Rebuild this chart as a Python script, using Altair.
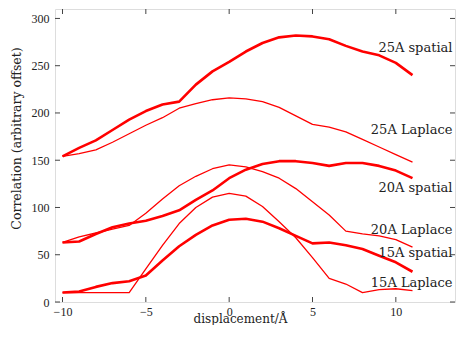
import altair as alt
import pandas as pd

xs = list(range(-10, 12))

s25 = [154, 163, 171, 182, 193, 202, 209, 212, 230, 244, 254, 265, 274, 280, 282, 281, 278, 271, 265, 261, 253, 240]
l25 = [154, 157, 161, 169, 178, 187, 195, 205, 210, 214, 216, 215, 212, 206, 197, 188, 185, 180, 172, 164, 156, 148]
s20 = [63, 64, 72, 79, 83, 86, 91, 97, 108, 118, 131, 140, 146, 149, 149, 147, 144, 147, 147, 144, 139, 131]
l20 = [63, 69, 73, 77, 81, 94, 109, 123, 133, 141, 145, 143, 138, 131, 120, 106, 92, 75, 72, 70, 66, 58]
s15 = [10, 11, 16, 20, 22, 28, 44, 59, 71, 81, 87, 88, 85, 78, 70, 62, 63, 60, 56, 49, 42, 32]
l15 = [10, 10, 10, 10, 10, 35, 60, 83, 100, 111, 115, 112, 101, 85, 68, 47, 25, 19, 10, 13, 14, 12]

series_names = ["25A spatial", "25A Laplace", "20A spatial", "20A Laplace", "15A spatial", "15A Laplace"]
series_kind = ["spatial", "Laplace", "spatial", "Laplace", "spatial", "Laplace"]
series_vals = [s25, l25, s20, l20, s15, l15]

label_x = 13.4
label_y = [265, 178, 116.5, 71.8, 47.8, 15.5]

x_ticks = [-10, -5, 0, 5, 10]
y_ticks = [0, 50, 100, 150, 200, 250, 300]

rows = []
for name, kind, vals in zip(series_names, series_kind, series_vals):
    for x, v in zip(xs, vals):
        rows.append({"x": x, "y": v, "series": name, "kind": kind})
df = pd.DataFrame(rows)

lab = pd.DataFrame({"x": [label_x] * 6, "y": label_y, "text": series_names})
xt = pd.DataFrame({"x": x_ticks})
yt = pd.DataFrame({"y": y_ticks})

W, H = 400, 293
SERIF = "DejaVu Serif"
TICKFONT = "Liberation Serif"

xscale = alt.Scale(domain=[-10.45, 13.55], nice=False, zero=False)
yscale = alt.Scale(domain=[0, 310], nice=False, zero=False)

xaxis = alt.Axis(values=x_ticks, ticks=False, domain=False, grid=False,
                 labelFont=TICKFONT, labelFontSize=12, labelColor="#222",
                 labelPadding=4, title="displacement/Å", titleFont=SERIF,
                 titleFontSize=12, titleFontWeight="normal", titleColor="#222",
                 titleX=185, titleY=20, titleBaseline="alphabetic")
yaxis = alt.Axis(values=y_ticks, ticks=False, domain=False, grid=False,
                 labelFont=TICKFONT, labelFontSize=12, labelColor="#222",
                 labelPadding=6, title="Correlation (arbitrary offset)",
                 titleFont=SERIF, titleFontSize=12.5, titleFontWeight="normal",
                 titleColor="#222", titleX=-35, titleY=129,
                 titleBaseline="alphabetic")

X = alt.X("x:Q", scale=xscale, axis=xaxis)
Y = alt.Y("y:Q", scale=yscale, axis=yaxis)

lines = alt.Chart(df).mark_line(color="#ff0000", strokeJoin="round").encode(
    x=X, y=Y,
    detail="series:N",
    order="x:Q",
    strokeWidth=alt.StrokeWidth("kind:N", scale=alt.Scale(domain=["spatial", "Laplace"], range=[2.6, 1.3]), legend=None),
)

labels = alt.Chart(lab).mark_text(align="right", baseline="alphabetic", font=SERIF,
                                  fontSize=13, color="#222").encode(x=X, y=Y, text="text:N")

tick_color = "#444"
xb = alt.Chart(xt).mark_rule(color=tick_color).encode(x=X, y=alt.value(H), y2=alt.value(H - 5))
xtop = alt.Chart(xt).mark_rule(color=tick_color).encode(x=X, y=alt.value(0), y2=alt.value(5))
yl = alt.Chart(yt).mark_rule(color=tick_color).encode(y=Y, x=alt.value(0), x2=alt.value(5))
yr = alt.Chart(yt).mark_rule(color=tick_color).encode(y=Y, x=alt.value(W), x2=alt.value(W - 5))

chart = alt.layer(lines, labels, xb, xtop, yl, yr).properties(
    width=W, height=H,
    autosize=alt.AutoSizeParams(type="none"),
    padding={"left": 47, "top": 1, "right": 1, "bottom": 23},
).configure_view(stroke="#333", strokeWidth=1).configure(background="white")

chart.save("out.html", embed_options={"renderer": "svg", "actions": False})
